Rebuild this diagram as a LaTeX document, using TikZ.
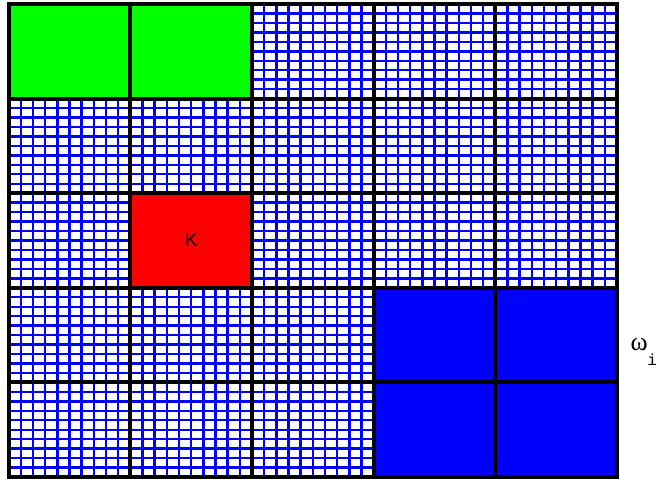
\documentclass[tikz,border=0pt]{standalone}
\usepackage{fontspec}
\setmainfont{Liberation Serif}
\newfontfamily\sansK{Liberation Sans}
\newfontfamily\monoI{Liberation Mono}
\definecolor{cgreen}{RGB}{0,255,0}
\definecolor{cred}{RGB}{255,0,0}
\definecolor{cblue}{RGB}{0,0,255}
\tikzset{
  fineline/.style={draw=cblue, line width=2.4pt},
  thickline/.style={draw=black, line width=4pt, line cap=rect},
}
\begin{document}
\begin{tikzpicture}[x=1pt,y=-1pt]
\def\X{8.7}\def\Y{4}\def\W{121.66}\def\H{94.6}
\useasboundingbox (0,0) rectangle (657,479);
\fill[white] (0,0) rectangle (657,479);
% fine grid
\foreach \i in {1,...,49}{
  \draw[fineline] ({\X+\i*\W/10},\Y) -- ({\X+\i*\W/10},{\Y+5*\H});
  \draw[fineline] (\X,{\Y+\i*\H/10}) -- ({\X+5*\W},{\Y+\i*\H/10});
}
% coloured cells
\fill[cgreen] (\X,\Y) rectangle ({\X+2*\W},{\Y+\H});
\fill[cred] ({\X+\W},{\Y+2*\H}) rectangle ({\X+2*\W},{\Y+3*\H});
\fill[cblue] ({\X+3*\W},{\Y+3*\H}) rectangle ({\X+5*\W},{\Y+5*\H});
% thick grid
\foreach \i in {0,...,5}{
  \draw[thickline] ({\X+\i*\W},\Y) -- ({\X+\i*\W},{\Y+5*\H});
  \draw[thickline] (\X,{\Y+\i*\H}) -- ({\X+5*\W},{\Y+\i*\H});
}
\node[inner sep=0pt] (K) at (191.3,240) {\sansK\fontsize{18.5}{20}\selectfont K};
\node[anchor=base west, inner sep=0pt] (omega) at (630.5,350.7) {\fontsize{26}{28}\selectfont ω\hspace{-0.5pt}\raisebox{-14.3pt}{\monoI\fontsize{16}{18}\selectfont i}};
\end{tikzpicture}
\end{document}
